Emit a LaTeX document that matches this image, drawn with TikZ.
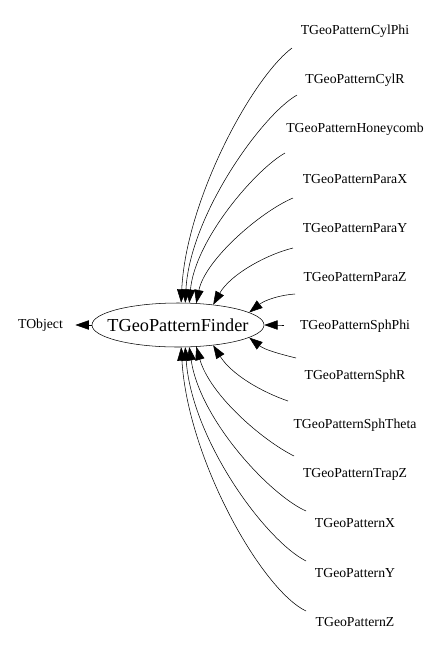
\documentclass[tikz,border=0pt]{standalone}
\usepackage{fontspec}
\setmainfont{Liberation Serif}
\usetikzlibrary{arrows.meta,shapes.geometric}
\begin{document}
\begin{tikzpicture}[x=0.75pt,y=-0.75pt,
    cls/.style={font=\fontsize{10.3}{12}\selectfont,inner sep=0pt},
    inh/.style={-{Triangle[length=10pt,width=7pt]}}]
    \useasboundingbox (0,0) rectangle (440,651);
    \node[draw,ellipse,minimum width=129pt,minimum height=33pt,inner xsep=-11pt,inner ysep=0pt,
        font=\fontsize{13.7}{16}\selectfont] (finder) at (178,325) {TGeoPatternFinder};
    \node[cls,minimum width=52pt] (tobject) at (40.5,325) {TObject};
    \draw[inh] (finder) -- (tobject);
        \foreach \i/\n/\tx/\ty/\ax/\ay/\bx/\by/\h in
            {0/CylPhi/292/48/252/78/186/200/82, 1/CylR/297/95/262/115/190/215/72,
             2/Honeycomb/285/153/255/170/195/240/63, 3/ParaX/293/198/260/212/205/260/50,
             4/ParaY/293/248/265/255/230/275/30, 5/ParaZ/295/294/280/295/265/300/10,
             6/SphPhi/284/325/279/325/274/325/0, 7/SphR/296/358/280/354/265/350/350,
             8/SphTheta/288/401/262/392/232/375/330, 9/TrapZ/294/456/262/440/210/395/310,
             10/X/306/511/270/495/200/420/297, 11/Y/306/561/265/540/192/440/288,
             12/Z/306/611/262/590/188/460/278}
            {
                \node[cls] (\n) at (355,{31+49.25*\i}) {TGeoPattern\n};
                \coordinate (t\n) at (\tx,\ty);
                \draw[inh] (t\n) .. controls (\ax,\ay) and (\bx,\by) .. (finder.\h);
            }
\end{tikzpicture}
\end{document}
